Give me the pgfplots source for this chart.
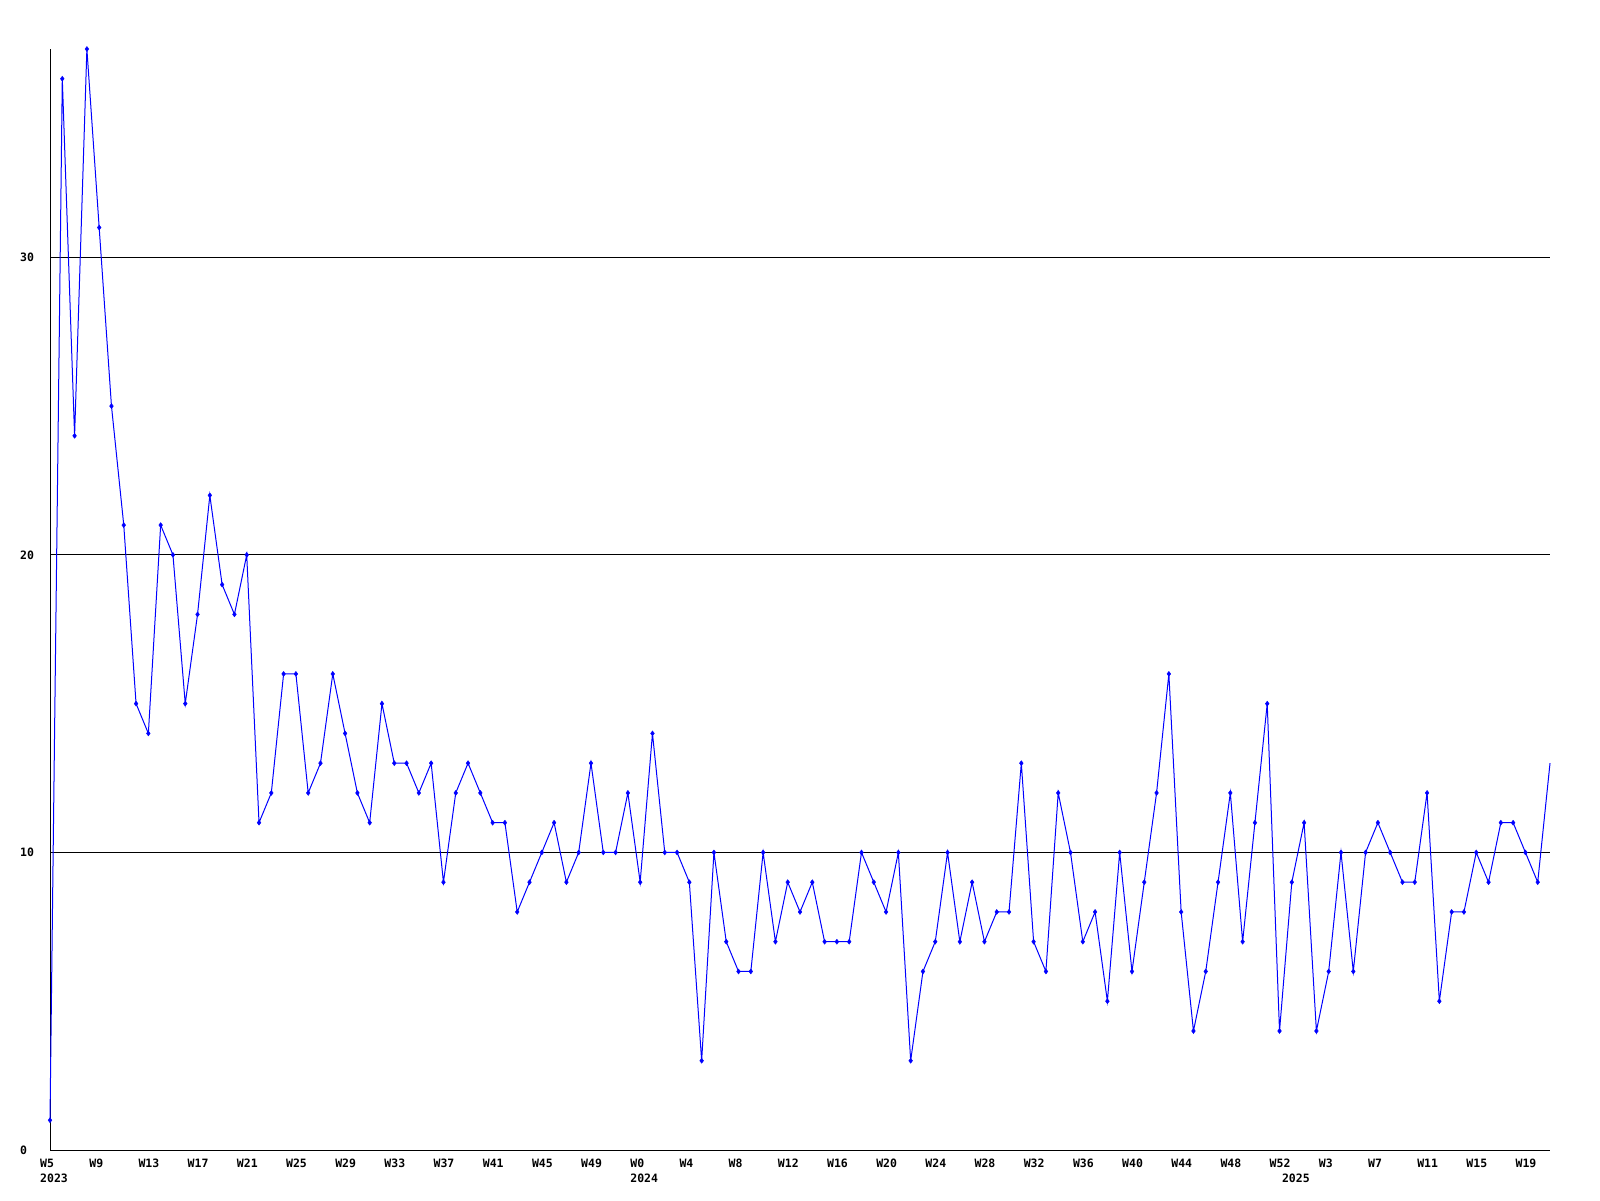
\documentclass[border=0pt]{standalone}
\usepackage{pgfplots}
\usepackage{pgfplotstable}
\pgfplotsset{compat=1.18}
\usepackage{fontspec}
\setmainfont{DejaVu Sans Mono}
\pgfplotstableread{
k v
0 1
1 36
2 24
3 37
4 31
5 25
6 21
7 15
8 14
9 21
10 20
11 15
12 18
13 22
14 19
15 18
16 20
17 11
18 12
19 16
20 16
21 12
22 13
23 16
24 14
25 12
26 11
27 15
28 13
29 13
30 12
31 13
32 9
33 12
34 13
35 12
36 11
37 11
38 8
39 9
40 10
41 11
42 9
43 10
44 13
45 10
46 10
47 12
48 9
49 14
50 10
51 10
52 9
53 3
54 10
55 7
56 6
57 6
58 10
59 7
60 9
61 8
62 9
63 7
64 7
65 7
66 10
67 9
68 8
69 10
70 3
71 6
72 7
73 10
74 7
75 9
76 7
77 8
78 8
79 13
80 7
81 6
82 12
83 10
84 7
85 8
86 5
87 10
88 6
89 9
90 12
91 16
92 8
93 4
94 6
95 9
96 12
97 7
98 11
99 15
100 4
101 9
102 11
103 4
104 6
105 10
106 6
107 10
108 11
109 10
110 9
111 9
112 12
113 5
114 8
115 8
116 10
117 9
118 11
119 11
120 10
121 9
122 13
}\datatable
\definecolor{pureblue}{RGB}{0,0,255}
\begin{document}
\begin{tikzpicture}[x=1pt,y=1pt]
\useasboundingbox (0,0) rectangle (1600,1200);
\begin{axis}[
  at={(50pt,50pt)}, anchor=south west,
  scale only axis, width=1500pt, height=1101pt,
  xmin=0, xmax=122, ymin=0, ymax=37,
  axis x line*=bottom, axis y line*=left,
  axis line style={black, line width=1pt},
  ytick={0,10,20,30}, yticklabels={0,10,20,30},
  ymajorgrids, grid style={black, line width=1pt},
  major tick length=0pt,
  xtick={0,4,...,120},
  xticklabels={W5,W9,W13,W17,W21,W25,W29,W33,W37,W41,W45,W49,W0,W4,W8,W12,W16,W20,W24,W28,W32,W36,W40,W44,W48,W52,W3,W7,W11,W15,W19},
  ticklabel style={font=\fontsize{11.5}{13}\selectfont\bfseries},
  xticklabel style={anchor=north west, inner sep=0pt, xshift=-10pt, yshift=-9pt},
  yticklabel style={anchor=west, inner sep=0pt, xshift=-30pt},
  extra x ticks={0,48,101},
  extra x tick labels={2023,2024,2025},
  extra x tick style={xticklabel style={yshift=-14.8pt}},
  clip=false,
]
\addplot[pureblue, line width=1pt, no markers] table[x=k, y=v] {\datatable};
\addplot[pureblue, only marks, mark=diamond*, mark size=2.5pt,
  skip coords between index={122}{123}] table[x=k, y=v] {\datatable};
\end{axis}
\end{tikzpicture}
\end{document}
